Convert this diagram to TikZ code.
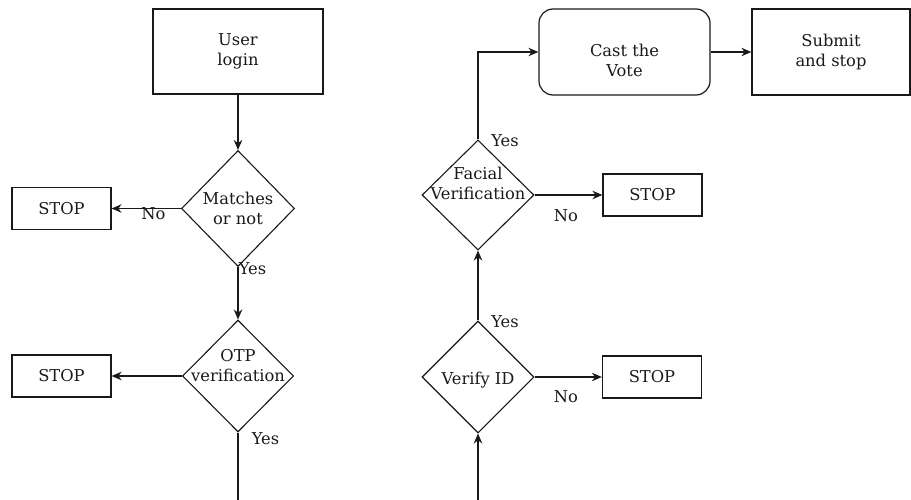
\documentclass[tikz,border=0pt]{standalone}
\usepackage{fontspec}
\setmainfont{DejaVu Serif}
\usetikzlibrary{shapes.geometric,arrows.meta}
\begin{document}
\begin{tikzpicture}[x=1pt,y=-1pt,
  every node/.style={font=\fontsize{16.3}{20}\selectfont, text=black!90},
  box/.style={draw=black!90, line width=1.2pt, rectangle, inner sep=0pt, align=center},
  stopbox/.style={box, minimum width=99pt, minimum height=42pt},
  dia/.style={draw=black!90, line width=1.1pt, shape=diamond, inner sep=0pt},
  arr/.style={draw=black!90, line width=1.3pt, -{Stealth[length=10pt,width=8.5pt]}},
  ln/.style={draw=black!90, line width=1.3pt},
  lbl/.style={inner sep=0pt}]
\useasboundingbox (0,0) rectangle (911,500);
% left column
\node[box, minimum width=170pt, minimum height=85pt] (login) at (238,51.5) {User\\login};
\node[dia, minimum width=113pt, minimum height=116pt,
  label={[align=center]center:Matches\\or not}] (match) at (238,208.5) {};
\node[stopbox] (stop1) at (61.5,208.5) {STOP};
\node[dia, minimum width=111pt, minimum height=112pt,
  label={[align=center,yshift=10pt]center:OTP\\verification}] (otp) at (238,376) {};
\node[stopbox] (stop2) at (61.5,376) {STOP};
\coordinate (otpend) at (238,502);
% right column
\coordinate (vstart) at (478,502);
\node[dia, minimum width=112pt, minimum height=112pt,
  label={[align=center,yshift=-3pt]center:Verify ID}] (verify) at (478,377) {};
\node[stopbox] (stop3) at (652,377) {STOP};
\node[dia, minimum width=112pt, minimum height=110pt,
  label={[align=center,yshift=12pt]center:Facial\\Verification}] (facial) at (478,195) {};
\node[stopbox] (stop4) at (652.5,195) {STOP};
\node[box, rounded corners=14pt, minimum width=171pt, minimum height=86pt,
  label={[align=center,yshift=-8pt]center:Cast the\\Vote}] (cast) at (624.5,52) {};
\node[box, minimum width=158pt, minimum height=86pt] (submit) at (831,52) {Submit\\and stop};
% connectors
\draw[arr] (login) -- (match);
\draw[arr] (match.west) -- (stop1.east);
\draw[arr] (match) -- (otp);
\draw[arr] (otp.west) -- (stop2.east);
\draw[ln] (otp.south) -- (otpend);
\draw[arr] (vstart) -- (verify.south);
\draw[arr] (verify.north) -- (facial.south);
\draw[arr] (verify.east) -- (stop3.west);
\draw[arr] (facial.east) -- (stop4.west);
\draw[arr] (facial.north) |- (cast.west);
\draw[arr] (cast.east) -- (submit.west);
% connector labels
\node[lbl] (n1) at (153.5,214) {No};
\node[lbl] (y1) at (252.5,269) {Yes};
\node[lbl] (y2) at (265.5,439) {Yes};
\node[lbl] (y3) at (505,322) {Yes};
\node[lbl] (n3) at (566,397) {No};
\node[lbl] (y4) at (505,140.5) {Yes};
\node[lbl] (n4) at (566,215.5) {No};
\end{tikzpicture}
\end{document}
